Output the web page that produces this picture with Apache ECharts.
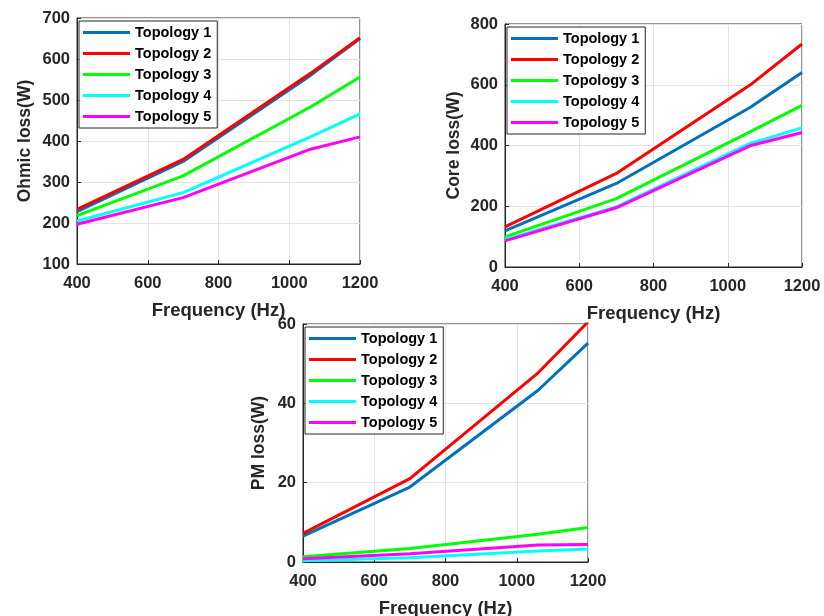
<!DOCTYPE html>
<html>
<head>
<meta charset="utf-8">
<title>Losses vs frequency</title>
<script src="https://cdn.jsdelivr.net/npm/echarts@6/dist/echarts.min.js"></script>
<style>
  html, body { margin: 0; padding: 0; background: #fff; }
  #chart { width: 824px; height: 616px; }
</style>
</head>
<body>
<div id="chart"></div>
<script>
// Sample frequencies (Hz), shared by all three panels
var freq = [400, 700, 1060, 1200];
var topologyNames = ['Topology 1', 'Topology 2', 'Topology 3', 'Topology 4', 'Topology 5'];
var topologyColors = ['#0072bd', '#ff0000', '#00ff00', '#00ffff', '#ff00ff'];

// Ohmic loss (W)
var ohmic1 = [228, 350, 560, 650];
var ohmic2 = [233, 355, 565, 652];
var ohmic3 = [218, 315, 483, 556];
var ohmic4 = [205, 274, 410, 466];
var ohmic5 = [197, 262, 380, 410];

// Core loss (W)
var core1 = [119, 275, 525, 640];
var core2 = [132, 308, 599, 734];
var core3 = [99, 225, 445, 532];
var core4 = [90, 198, 407, 458];
var core5 = [86, 195, 399, 443];

// PM loss (W)
var pm1 = [6.5, 18.9, 43.3, 55.2];
var pm2 = [7.2, 21.0, 47.7, 60.5];
var pm3 = [1.3, 3.4, 7.0, 8.7];
var pm4 = [0.3, 1.1, 2.8, 3.3];
var pm5 = [0.8, 2.1, 4.3, 4.4];

(function () {
    'use strict';

    var TEXT = '#262626';
    var FONT = '"Liberation Sans", Arial, Helvetica, sans-serif';
    // flat bar used as legend icon (kept to aspect, so it stays a thin line)
    var LINE_ICON = 'path://M0,0 L47,0 L47,3 L0,3 Z';

    var panels = [
        { grid: { left: 77, top: 18, width: 283, height: 246 },
          y: { min: 100, max: 700, interval: 100, name: 'Ohmic loss(W)', gap: 43 },
          data: [ohmic1, ohmic2, ohmic3, ohmic4, ohmic5] },
        { grid: { left: 505, top: 24, width: 297, height: 243 },
          y: { min: 0, max: 800, interval: 200, name: 'Core loss(W)', gap: 42 },
          data: [core1, core2, core3, core4, core5] },
        { grid: { left: 303, top: 324, width: 285, height: 238 },
          y: { min: 0, max: 60, interval: 20, name: 'PM loss(W)', gap: 35 },
          data: [pm1, pm2, pm3, pm4, pm5] }
    ];

    function plain(v) { return String(v); }

    var grids = [], xAxes = [], yAxes = [], series = [], legends = [];

    panels.forEach(function (p, i) {
        grids.push({
            left: p.grid.left, top: p.grid.top, width: p.grid.width, height: p.grid.height,
            outerBoundsMode: 'none', containLabel: false,
            show: true, borderColor: '#262626', borderWidth: 1, backgroundColor: '#fff'
        });
        xAxes.push({
            type: 'value', gridIndex: i, min: 400, max: 1200, interval: 200,
            name: 'Frequency (Hz)', nameLocation: 'middle', nameGap: 37,
            nameTextStyle: { color: TEXT, fontSize: 18.5, fontWeight: 'bold', fontFamily: FONT },
            axisLine: { show: true, onZero: false, lineStyle: { color: '#262626', width: 1 } },
            axisTick: { show: true, inside: true, length: 4, lineStyle: { color: '#262626' } },
            axisLabel: { color: TEXT, fontSize: 16.5, fontWeight: 'bold', fontFamily: FONT, margin: 11, formatter: plain },
            splitLine: { show: true, lineStyle: { color: '#e3e3e3', width: 1 } }
        });
        yAxes.push({
            type: 'value', gridIndex: i, min: p.y.min, max: p.y.max, interval: p.y.interval,
            name: p.y.name, nameLocation: 'middle', nameGap: p.y.gap,
            nameTextStyle: { color: TEXT, fontSize: 17.5, fontWeight: 'bold', fontFamily: FONT },
            axisLine: { show: true, onZero: false, lineStyle: { color: '#262626', width: 1 } },
            axisTick: { show: true, inside: true, length: 4, lineStyle: { color: '#262626' } },
            axisLabel: { color: TEXT, fontSize: 16.5, fontWeight: 'bold', fontFamily: FONT, margin: 7, formatter: plain },
            splitLine: { show: true, lineStyle: { color: '#e3e3e3', width: 1 } }
        });
        p.data.forEach(function (vals, k) {
            series.push({
                type: 'line', name: topologyNames[k],
                xAxisIndex: i, yAxisIndex: i,
                data: freq.map(function (f, j) { return [f, vals[j]]; }),
                showSymbol: false, symbol: 'none', silent: true,
                lineStyle: { color: topologyColors[k], width: 3 },
                itemStyle: { color: topologyColors[k] },
                z: 3 + (k === 1 ? 1 : 0)
            });
        });
        legends.push({
            orient: 'vertical',
            left: p.grid.left + 2, top: p.grid.top + 3,
            data: topologyNames.map(function (n) { return { name: n, icon: LINE_ICON }; }),
            backgroundColor: '#fff', borderColor: '#262626', borderWidth: 1, borderRadius: 0,
            padding: [4, 6, 4, 4],
            itemWidth: 47, itemHeight: 15, itemGap: 6,
            textStyle: { color: '#000', fontSize: 14.5, fontWeight: 'bold', fontFamily: FONT },
            selectedMode: false
        });
    });

    var chart = echarts.init(document.getElementById('chart'), null, { renderer: 'canvas' });
    chart.setOption({
        animation: false,
        backgroundColor: '#fff',
        grid: grids,
        xAxis: xAxes,
        yAxis: yAxes,
        legend: legends,
        series: series
    });
})();
</script>
</body>
</html>
